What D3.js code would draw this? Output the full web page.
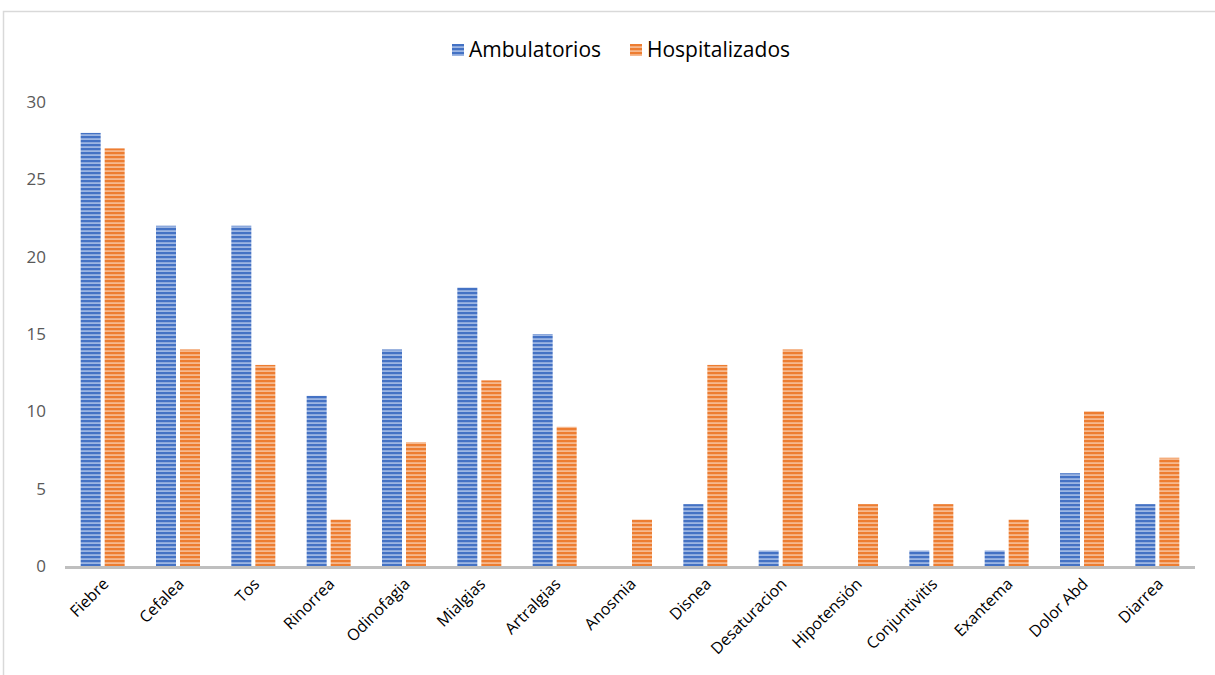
<!DOCTYPE html>
<html><head><meta charset="utf-8">
<script src="https://cdn.jsdelivr.net/npm/d3@7"></script>
<style>body{margin:0;background:#fff;} svg{display:block;font-family:"Open Sans","Liberation Sans",sans-serif;}</style>
</head><body>
<svg id="c" width="1215" height="675"></svg>
<script>
const categories = ["Fiebre","Cefalea","Tos","Rinorrea","Odinofagia","Mialgias","Artralgias","Anosmia","Disnea","Desaturacion","Hipotensión","Conjuntivitis","Exantema","Dolor Abd","Diarrea"];
const ambulatorios = [28,22,22,11,14,18,15,0,4,1,0,1,1,6,4];
const hospitalizados = [27,14,13,3,8,12,9,3,13,14,4,4,3,10,7];
const seriesNames = ["Ambulatorios","Hospitalizados"];
const yTicks = [0,5,10,15,20,25,30];

const svg = d3.select("#c");
const defs = svg.append("defs");
function stripe(id, dark, light){
  const p = defs.append("pattern").attr("id",id).attr("patternUnits","userSpaceOnUse")
    .attr("width",8).attr("height",4);
  p.append("rect").attr("width",8).attr("height",4).attr("fill",light);
  p.append("rect").attr("y",0).attr("width",8).attr("height",2.2).attr("fill",dark);
}
stripe("pb","#4472C4","#9DB6E3");
stripe("po","#ED7D31","#F6B98F");
const fills = ["url(#pb)","url(#po)"];

// frame
svg.append("path").attr("d","M3.5,675 V11.5 H1215").attr("fill","none").attr("stroke","#d9d9d9").attr("stroke-width",1.5);

const x0 = d3.scaleBand().domain(categories).range([65,1195]).paddingInner(0).paddingOuter(0);
const y = d3.scaleLinear().domain([0,30]).range([566,102]);

// y axis labels
svg.append("g").selectAll("text").data(yTicks).join("text")
  .attr("x",46).attr("y",d=>y(d)).attr("dy","0.35em").attr("text-anchor","end")
  .attr("font-size",17).attr("fill","#595959").text(d=>d);

const barW = 20, gap = 4;
const data = categories.map((c,i)=>({c, v:[ambulatorios[i],hospitalizados[i]]}));
const g = svg.append("g");
data.forEach(d=>{
  const cx = x0(d.c) + x0.bandwidth()/2;
  d.v.forEach((v,k)=>{
    if(v<=0) return;
    const bx = k===0 ? cx - gap/2 - barW : cx + gap/2;
    g.append("rect").attr("x",bx).attr("y",y(v)).attr("width",barW).attr("height",y(0)-y(v))
      .attr("fill",fills[k]);
  });
});

// x axis line
svg.append("line").attr("x1",65).attr("x2",1195).attr("y1",y(0)+1.5).attr("y2",y(0)+1.5)
  .attr("stroke","#bfbfbf").attr("stroke-width",3);

// x labels
svg.append("g").selectAll("text").data(categories).join("text")
  .attr("transform",d=>`translate(${x0(d)+x0.bandwidth()/2+7},${585}) rotate(-45)`)
  .attr("text-anchor","end").attr("font-size",16).attr("fill","#000").text(d=>d);

// legend
const leg = svg.append("g");
const legX = [452, 630];
seriesNames.forEach((n,k)=>{
  leg.append("rect").attr("x",legX[k]).attr("y",44).attr("width",12).attr("height",12).attr("fill",fills[k]);
  leg.append("text").attr("x",legX[k]+17).attr("y",50).attr("dy","0.35em").attr("font-size",21).attr("fill","#000").text(n);
});
</script>
</body></html>
